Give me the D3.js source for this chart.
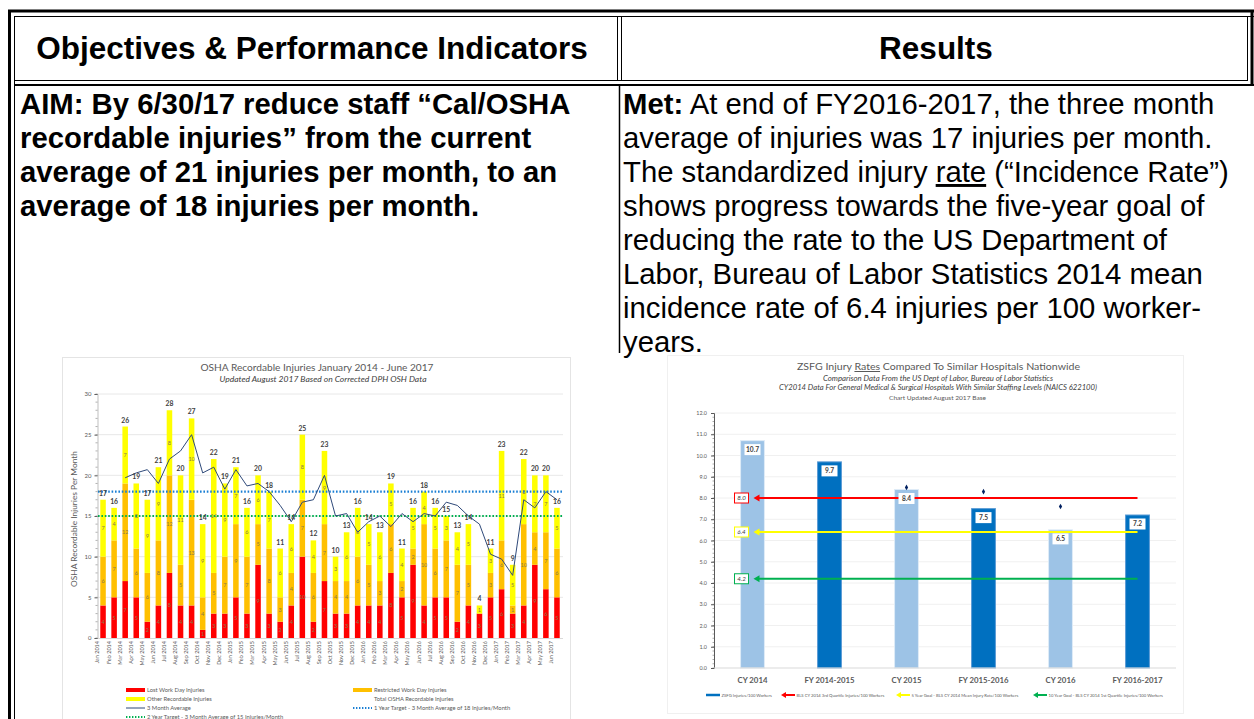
<!DOCTYPE html>
<html>
<head>
<meta charset="utf-8">
<script src="https://cdn.jsdelivr.net/npm/d3@7"></script>
<style>
body { margin: 0; background: #fff; }
svg { display: block; }
.doc { font-family: "Liberation Sans", Arial, sans-serif; fill: #000; }
.ch { font-family: Lato, "Open Sans", sans-serif; }
</style>
</head>
<body>
<svg id="page"></svg>
<script>
var WIDTH = 1254;
var HEIGHT = 719;

// ---- left chart data (OSHA recordable injuries per month)
var months = ['Jan 2014','Feb 2014','Mar 2014','Apr 2014','May 2014','Jun 2014','Jul 2014','Aug 2014','Sep 2014','Oct 2014','Nov 2014','Dec 2014',
  'Jan 2015','Feb 2015','Mar 2015','Apr 2015','May 2015','Jun 2015','Jul 2015','Aug 2015','Sep 2015','Oct 2015','Nov 2015','Dec 2015',
  'Jan 2016','Feb 2016','Mar 2016','Apr 2016','May 2016','Jun 2016','Jul 2016','Aug 2016','Sep 2016','Oct 2016','Nov 2016','Dec 2016',
  'Jan 2017','Feb 2017','Mar 2017','Apr 2017','May 2017','Jun 2017'];
var lostWorkDay =   [4,5,7,5,2,4,8,4,4,1,3,3, 5,3,9,3,2,4,10,2,7,3,3,4, 4,4,8,5,9,4,5,5,2,4,3,5, 6,3,4,9,6,5];
var restrictedDay = [6,7,12,6,6,8,12,5,13,4,5,7, 9,7,5,8,3,4,7,6,7,4,4,6, 5,3,6,2,2,10,6,7,7,5,0,3, 6,1,10,4,7,6];
var otherRecordable = [7,4,7,8,9,9,8,11,10,9,14,9, 7,6,6,7,6,6,8,4,9,3,6,6, 5,6,5,4,5,4,5,3,4,5,1,3, 11,5,8,7,7,5];
var totalRecordable = [17,16,26,19,17,21,28,20,27,14,22,19, 21,16,20,18,11,14,25,12,23,10,13,16, 14,13,19,11,16,18,16,15,13,14,4,11, 23,9,22,20,20,16];
var threeMonthAvg = [null,null,19.7,20.3,20.7,19.0,22.0,23.0,25.0,20.3,21.0,18.3,
  20.7,18.7,19.0,18.0,16.3,14.3,16.7,17.0,20.0,15.0,15.3,13.0,
  14.3,15.0,13.7,15.3,14.3,15.3,15.0,16.7,16.3,15.0,14.0,10.3,
  9.7,7.7,17.0,16.0,18.0,17.0];
var oneYearTarget = 18;
var twoYearTarget = 15;
var injuryTicks = [0,5,10,15,20,25,30];

// ---- right chart data (injury rates)
var periods = ['CY 2014','FY 2014-2015','CY 2015','FY 2015-2016','CY 2016','FY 2016-2017'];
var zsfgRates = [10.7,9.7,8.4,7.5,6.5,7.2];
var periodKinds = ['CY','FY','CY','FY','CY','FY'];
var markerRates = [null,null,8.5,8.3,7.6,null];
var benchNames = ['BLS CY 2014 3rd Quartile Injuries/100 Workers','5 Year Goal - BLS CY 2014 Mean Injury Rate/100 Workers','10 Year Goal - BLS CY 2014 1st Quartile Injuries/100 Workers'];
var benchValues = [8.0,6.4,4.2];
var benchColors = ['#ff0000','#ffff00','#00b050'];
var rateTicks = [0,1,2,3,4,5,6,7,8,9,10,11,12];

var svg = d3.select('#page').attr('width', WIDTH).attr('height', HEIGHT);

// ================= document table =================
var doc = svg.append('g').attr('class', 'doc');
var border = doc.append('g').attr('stroke', '#000').attr('fill', 'none');
// outer double border
border.append('line').attr('x1', 8).attr('x2', 1254).attr('y1', 11).attr('y2', 11).attr('stroke-width', 3);
border.append('line').attr('x1', 14).attr('x2', 1254).attr('y1', 16.5).attr('y2', 16.5).attr('stroke-width', 1);
border.append('line').attr('x1', 9.5).attr('x2', 9.5).attr('y1', 10).attr('y2', 719).attr('stroke-width', 3);
border.append('line').attr('x1', 14.5).attr('x2', 14.5).attr('y1', 16).attr('y2', 719).attr('stroke-width', 1);
border.append('line').attr('x1', 1252).attr('x2', 1252).attr('y1', 10).attr('y2', 84).attr('stroke-width', 3);
border.append('line').attr('x1', 1247.5).attr('x2', 1247.5).attr('y1', 16).attr('y2', 80).attr('stroke-width', 1);
// header bottom double
border.append('line').attr('x1', 14).attr('x2', 1248).attr('y1', 80.5).attr('y2', 80.5).attr('stroke-width', 1);
border.append('line').attr('x1', 14).attr('x2', 1254).attr('y1', 85).attr('y2', 85).attr('stroke-width', 2);
// column divider
border.append('line').attr('x1', 617.5).attr('x2', 617.5).attr('y1', 16).attr('y2', 81).attr('stroke-width', 1);
border.append('line').attr('x1', 621.5).attr('x2', 621.5).attr('y1', 16).attr('y2', 81).attr('stroke-width', 1);
border.append('line').attr('x1', 619.5).attr('x2', 619.5).attr('y1', 85).attr('y2', 353).attr('stroke-width', 1.5);

doc.append('text').attr('x', 312).attr('y', 58.5).attr('text-anchor', 'middle')
  .attr('font-size', 31.5).attr('font-weight', 'bold').text('Objectives & Performance Indicators');
doc.append('text').attr('x', 936).attr('y', 58.5).attr('text-anchor', 'middle')
  .attr('font-size', 31.5).attr('font-weight', 'bold').text('Results');

var aimLines = ['AIM: By 6/30/17 reduce staff \u201cCal/OSHA', 'recordable injuries\u201d from the current',
  'average of 21 injuries per month, to an', 'average of 18 injuries per month.'];
doc.selectAll('.aim').data(aimLines).enter().append('text').attr('class', 'aim')
  .attr('x', 20).attr('y', 114 + 0).attr('y', function(d, i){ return 114 + i * 34; })
  .attr('font-size', 29.3).attr('font-weight', 'bold').text(function(d){ return d; });

var resultLines = [
  [['Met:', 'b'], [' At end of FY2016-2017, the three month', '']],
  [['average of injuries was 17 injuries per month.', '']],
  [['The standardized injury ', ''], ['rate', 'u'], [' (\u201cIncidence Rate\u201d)', '']],
  [['shows progress towards the five-year goal of', '']],
  [['reducing the rate to the US Department of', '']],
  [['Labor, Bureau of Labor Statistics 2014 mean', '']],
  [['incidence rate of 6.4 injuries per 100 worker-', '']],
  [['years.', '']]
];
resultLines.forEach(function(parts, i){
  var t = doc.append('text').attr('x', 623).attr('y', 114 + i * 34).attr('font-size', 29.3)
    .attr('xml:space', 'preserve');
  parts.forEach(function(p){
    var s = t.append('tspan').text(p[0]);
    if (p[1] === 'b') s.attr('font-weight', 'bold');
    if (p[1] === 'u') s.attr('text-decoration', 'underline');
  });
});

// ================= left chart =================
var lc = svg.append('g').attr('class', 'ch');
lc.append('rect').attr('x', 62.5).attr('y', 357.5).attr('width', 508).attr('height', 370)
  .attr('fill', '#fff').attr('stroke', '#e4e4e4');

lc.append('text').attr('x', 317).attr('y', 371).attr('text-anchor', 'middle')
  .attr('font-size', 10).attr('fill', '#595959').attr('textLength', 233).attr('lengthAdjust', 'spacingAndGlyphs')
  .text('OSHA Recordable Injuries January 2014 - June 2017');
lc.append('text').attr('x', 323).attr('y', 382).attr('text-anchor', 'middle')
  .attr('font-size', 8.4).attr('font-style', 'italic').attr('fill', '#404040')
  .attr('textLength', 207).attr('lengthAdjust', 'spacingAndGlyphs')
  .text('Updated August 2017 Based on Corrected DPH OSH Data');

var xL = d3.scaleBand().domain(months).range([97.5, 562.5]).paddingInner(0.5).paddingOuter(0.25);
var yL = d3.scaleLinear().domain([0, 30]).range([638, 394]);

lc.append('g').selectAll('line').data(injuryTicks.slice(1)).enter().append('line')
  .attr('x1', 97.5).attr('x2', 563).attr('y1', function(d){ return yL(d); }).attr('y2', function(d){ return yL(d); })
  .attr('stroke', '#e2e2e2').attr('stroke-width', 0.8);

var yAxisL = lc.append('g').attr('transform', 'translate(97.5,0)')
  .call(d3.axisLeft(yL).tickValues(injuryTicks).tickSize(3).tickPadding(3));
yAxisL.select('.domain').attr('stroke', '#bfbfbf');
yAxisL.selectAll('.tick line').attr('stroke', '#595959');
yAxisL.selectAll('text').attr('font-size', 6).attr('fill', '#595959').attr('font-family', 'Lato');
lc.append('g').selectAll('line').data(d3.range(0, 31)).enter().append('line')
  .attr('x1', 95.5).attr('x2', 97.5).attr('y1', function(d){ return yL(d); }).attr('y2', function(d){ return yL(d); })
  .attr('stroke', '#7f7f7f').attr('stroke-width', 0.6);
lc.append('text').attr('transform', 'translate(77,519) rotate(-90)').attr('text-anchor', 'middle')
  .attr('font-size', 8.4).attr('fill', '#595959').text('OSHA Recordable Injuries Per Month');

var rows = months.map(function(m, i){
  return { month: m, lost: lostWorkDay[i], restricted: restrictedDay[i], other: otherRecordable[i], total: totalRecordable[i] };
});
var segColors = { lost: '#ff0000', restricted: '#ffc000', other: '#ffff00' };
var stack = d3.stack().keys(['lost', 'restricted', 'other'])(rows);

var layers = lc.append('g').selectAll('g').data(stack).enter().append('g')
  .attr('fill', function(d){ return segColors[d.key]; });
layers.selectAll('rect').data(function(d){ return d; }).enter().append('rect')
  .attr('x', function(d){ return xL(d.data.month); })
  .attr('width', xL.bandwidth())
  .attr('y', function(d){ return yL(d[1]); })
  .attr('height', function(d){ return yL(d[0]) - yL(d[1]); });

// targets
lc.append('line').attr('x1', 98).attr('x2', 563).attr('y1', yL(oneYearTarget)).attr('y2', yL(oneYearTarget))
  .attr('stroke', '#1a7fd4').attr('stroke-width', 2.2).attr('stroke-dasharray', '1.6,1.8');
lc.append('line').attr('x1', 98).attr('x2', 563).attr('y1', yL(twoYearTarget)).attr('y2', yL(twoYearTarget))
  .attr('stroke', '#00b050').attr('stroke-width', 2.2).attr('stroke-dasharray', '1.6,1.8');

// segment labels
layers.selectAll('text').data(function(d){ return d; }).enter().append('text')
  .filter(function(d){ return d[1] - d[0] > 0; })
  .attr('x', function(d){ return xL(d.data.month) + xL.bandwidth() / 2; })
  .attr('y', function(d){ return yL((d[0] + d[1]) / 2) + 2; })
  .attr('text-anchor', 'middle').attr('font-size', 5.5).attr('fill', '#8a7a4a')
  .text(function(d){ return d[1] - d[0]; });

// 3 month average
var avgLine = d3.line()
  .defined(function(d){ return d !== null; })
  .x(function(d, i){ return xL(months[i]) + xL.bandwidth() / 2; })
  .y(function(d){ return yL(d); });
lc.append('path').datum(threeMonthAvg).attr('d', avgLine)
  .attr('fill', 'none').attr('stroke', '#2f4a7a').attr('stroke-width', 1);

lc.append('g').selectAll('text').data(rows).enter().append('text')
  .attr('x', function(d){ return xL(d.month) + xL.bandwidth() / 2; })
  .attr('y', function(d){ return yL(d.total) - 4; })
  .attr('text-anchor', 'middle').attr('font-size', 6.8).attr('font-weight', 'bold').attr('fill', '#404040')
  .text(function(d){ return d.total; });

var xAxisL = lc.append('g').attr('transform', 'translate(0,638)')
  .call(d3.axisBottom(xL).tickSize(0).tickPadding(3));
xAxisL.select('.domain').attr('stroke', '#d9d9d9');
xAxisL.selectAll('text').attr('font-size', 5.5).attr('fill', '#595959').attr('font-family', 'Lato')
  .attr('transform', 'rotate(-90)').attr('text-anchor', 'end').attr('dx', '-3').attr('dy', '-0.9em')
  .attr('x', 0).attr('y', 0).style('dominant-baseline', 'middle');

// legend
var legL = [
  { x: 147, y: 690, kind: 'box', color: '#ff0000', text: 'Lost Work Day Injuries' },
  { x: 147, y: 699, kind: 'box', color: '#ffff00', text: 'Other Recordable Injuries' },
  { x: 147, y: 708, kind: 'line', color: '#2f4a7a', text: '3 Month Average' },
  { x: 147, y: 717, kind: 'dot', color: '#00b050', text: '2 Year Target - 3 Month Average of 15 Injuries/Month' },
  { x: 374, y: 690, kind: 'box', color: '#ffc000', text: 'Restricted Work Day Injuries' },
  { x: 374, y: 699, kind: 'none', color: '#fff', text: 'Total OSHA Recordable Injuries' },
  { x: 374, y: 708, kind: 'dot', color: '#1a7fd4', text: '1 Year Target  - 3 Month Average of 18 Injuries/Month' }
];
var legG = lc.append('g').selectAll('g').data(legL).enter().append('g')
  .attr('transform', function(d){ return 'translate(' + d.x + ',' + d.y + ')'; });
legG.filter(function(d){ return d.kind === 'box'; }).append('rect')
  .attr('x', -21).attr('y', -2).attr('width', 19).attr('height', 4).attr('fill', function(d){ return d.color; });
legG.filter(function(d){ return d.kind === 'line'; }).append('line')
  .attr('x1', -21).attr('x2', -2).attr('stroke', function(d){ return d.color; }).attr('stroke-width', 1);
legG.filter(function(d){ return d.kind === 'dot'; }).append('line')
  .attr('x1', -21).attr('x2', -2).attr('stroke', function(d){ return d.color; }).attr('stroke-width', 1.8)
  .attr('stroke-dasharray', '1.4,1.6');
legG.append('text').attr('x', 0).attr('y', 2).attr('font-size', 5.8).attr('fill', '#595959')
  .text(function(d){ return d.text; });

// ================= right chart =================
var rc = svg.append('g').attr('class', 'ch');
rc.append('rect').attr('x', 667.5).attr('y', 355.5).attr('width', 516).attr('height', 358)
  .attr('fill', '#fff').attr('stroke', '#f0f0f0');

var title = rc.append('text').attr('x', 938.5).attr('y', 370).attr('text-anchor', 'middle')
  .attr('font-size', 10).attr('fill', '#595959').attr('xml:space', 'preserve')
  .attr('textLength', 283).attr('lengthAdjust', 'spacingAndGlyphs');
title.append('tspan').text('ZSFG Injury ');
title.append('tspan').attr('text-decoration', 'underline').text('Rates');
title.append('tspan').text(' Compared To Similar Hospitals Nationwide');
rc.append('text').attr('x', 938).attr('y', 380.5).attr('text-anchor', 'middle')
  .attr('font-size', 7).attr('font-style', 'italic').attr('fill', '#404040')
  .attr('textLength', 230).attr('lengthAdjust', 'spacingAndGlyphs')
  .text('Comparison Data From the US Dept of Labor, Bureau of Labor Statistics');
rc.append('text').attr('x', 938).attr('y', 390).attr('text-anchor', 'middle')
  .attr('font-size', 7).attr('font-style', 'italic').attr('fill', '#404040')
  .attr('textLength', 318).attr('lengthAdjust', 'spacingAndGlyphs')
  .text('CY2014 Data For General Medical & Surgical Hospitals With Similar Staffing Levels (NAICS 622100)');
rc.append('text').attr('x', 937.5).attr('y', 399.5).attr('text-anchor', 'middle')
  .attr('font-size', 6.5).attr('fill', '#595959')
  .attr('textLength', 97).attr('lengthAdjust', 'spacingAndGlyphs')
  .text('Chart Updated August 2017 Base');

var xR = d3.scaleBand().domain(periods).range([714, 1176]).paddingInner(0.69).paddingOuter(0.345);
var yR = d3.scaleLinear().domain([0, 12]).range([668, 413]);

rc.append('g').selectAll('line').data(rateTicks.slice(1)).enter().append('line')
  .attr('x1', 714).attr('x2', 1176).attr('y1', function(d){ return yR(d); }).attr('y2', function(d){ return yR(d); })
  .attr('stroke', '#ececec').attr('stroke-width', 0.8);

var yAxisR = rc.append('g').attr('transform', 'translate(714,0)')
  .call(d3.axisLeft(yR).tickValues(rateTicks).tickSize(3).tickPadding(4).tickFormat(d3.format('.1f')));
yAxisR.select('.domain').attr('stroke', '#595959');
yAxisR.selectAll('.tick line').attr('stroke', '#595959');
yAxisR.selectAll('text').attr('font-size', 5.4).attr('fill', '#595959').attr('font-family', 'Lato');
rc.append('g').selectAll('line').data(d3.range(0, 60)).enter().append('line')
  .attr('x1', 712.5).attr('x2', 714).attr('y1', function(d){ return yR(d / 5); }).attr('y2', function(d){ return yR(d / 5); })
  .attr('stroke', '#595959').attr('stroke-width', 0.5);

var rateRows = periods.map(function(p, i){
  return { period: p, rate: zsfgRates[i], kind: periodKinds[i], marker: markerRates[i] };
});
rc.append('g').selectAll('rect').data(rateRows).enter().append('rect')
  .attr('x', function(d){ return xR(d.period); })
  .attr('width', xR.bandwidth())
  .attr('y', function(d){ return yR(d.rate); })
  .attr('height', function(d){ return yR(0) - yR(d.rate); })
  .attr('fill', function(d){ return d.kind === 'CY' ? '#9dc3e6' : '#0070c0'; })
  .attr('stroke', function(d){ return d.kind === 'CY' ? '#deebf7' : '#5b9bd5'; }).attr('stroke-width', 1);

rc.append('line').attr('x1', 714).attr('x2', 1176).attr('y1', yR(0)).attr('y2', yR(0))
  .attr('stroke', '#d9d9d9').attr('stroke-width', 1);

// benchmark arrows
var firstC = xR(periods[0]) + xR.bandwidth() / 2;
var lastC = xR(periods[periods.length - 1]) + xR.bandwidth() / 2;
benchValues.forEach(function(v, i){
  var y = yR(v);
  rc.append('line').attr('x1', firstC + 6).attr('x2', lastC).attr('y1', y).attr('y2', y)
    .attr('stroke', benchColors[i]).attr('stroke-width', 2.2);
  rc.append('path').attr('d', 'M' + (firstC + 1) + ',' + y + 'l6,-3.5v7z').attr('fill', benchColors[i]);
  rc.append('rect').attr('x', firstC - 18).attr('y', y - 5).attr('width', 14).attr('height', 10)
    .attr('fill', '#fff').attr('stroke', benchColors[i]).attr('stroke-width', 1);
  rc.append('text').attr('x', firstC - 11).attr('y', y + 2.2).attr('text-anchor', 'middle')
    .attr('font-size', 6.2).attr('font-style', 'italic').attr('fill', '#404040').text(d3.format('.1f')(v));
});

// value boxes
var vb = rc.append('g').selectAll('g').data(rateRows).enter().append('g')
  .attr('transform', function(d){ return 'translate(' + (xR(d.period) + xR.bandwidth() / 2) + ',' + (yR(d.rate) + 9) + ')'; });
vb.append('rect').attr('x', -8).attr('y', -5.5).attr('width', 16).attr('height', 11).attr('fill', '#fff');
vb.append('text').attr('y', 2.4).attr('text-anchor', 'middle').attr('font-size', 6.6).attr('font-weight', 'bold')
  .attr('fill', '#404040').text(function(d){ return d3.format('.1f')(d.rate); });

// markers
rc.append('g').selectAll('path').data(rateRows.filter(function(d){ return d.marker !== null; })).enter().append('path')
  .attr('d', d3.symbol().type(d3.symbolDiamond).size(9))
  .attr('transform', function(d){ return 'translate(' + (xR(d.period) + xR.bandwidth() / 2) + ',' + yR(d.marker) + ')'; })
  .attr('fill', '#002060');

var xAxisR = rc.append('g').attr('transform', 'translate(0,668)').call(d3.axisBottom(xR).tickSize(0).tickPadding(9));
xAxisR.select('.domain').remove();
xAxisR.selectAll('text').attr('font-size', 7.8).attr('font-weight', 'bold').attr('fill', '#595959').attr('font-family', 'Lato');

// legend
var legR = [
  { x: 706, kind: 'line', color: '#0070c0', text: 'ZSFG Injuries/100 Workers' },
  { x: 781, kind: 'arrow', color: benchColors[0], text: benchNames[0] },
  { x: 896, kind: 'arrow', color: benchColors[1], text: benchNames[1] },
  { x: 1033, kind: 'arrow', color: benchColors[2], text: benchNames[2] }
];
var lr = rc.append('g').selectAll('g').data(legR).enter().append('g')
  .attr('transform', function(d){ return 'translate(' + d.x + ',695)'; });
lr.filter(function(d){ return d.kind === 'line'; }).append('line').attr('x1', 0).attr('x2', 14)
  .attr('stroke', function(d){ return d.color; }).attr('stroke-width', 2.5);
lr.filter(function(d){ return d.kind === 'arrow'; }).append('line').attr('x1', 4).attr('x2', 14)
  .attr('stroke', function(d){ return d.color; }).attr('stroke-width', 2);
lr.filter(function(d){ return d.kind === 'arrow'; }).append('path').attr('d', 'M0,0l5,-3v6z')
  .attr('fill', function(d){ return d.color; });
lr.append('text').attr('x', 15.5).attr('y', 1.5).attr('font-size', 4.2).attr('fill', '#595959')
  .text(function(d){ return d.text; });
</script>
</body>
</html>
